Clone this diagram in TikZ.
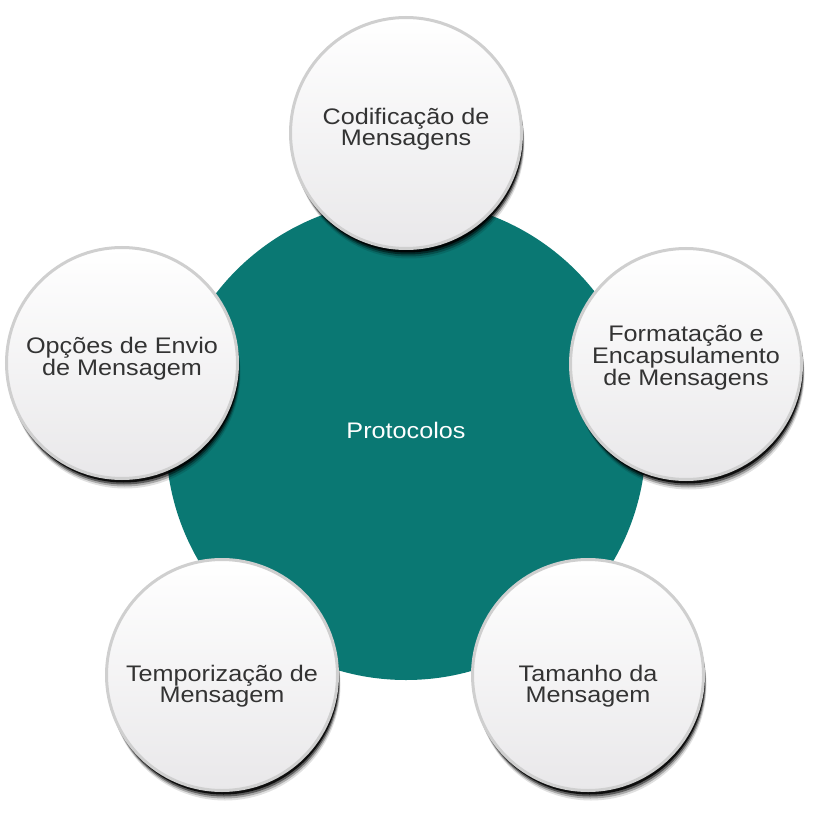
\documentclass[tikz,border=0pt]{standalone}
\usepackage{fontspec}
\setmainfont{Liberation Sans}[FakeStretch=1.12]
\usetikzlibrary{shadows}
\definecolor{prototeal}{HTML}{0A7873}
\definecolor{rimgray}{HTML}{CFCFCF}
\definecolor{bubblegray}{HTML}{E9E8EA}
\definecolor{labelgray}{HTML}{333333}

\begin{document}
\begin{tikzpicture}[x=1pt,y=-1pt,
 bubble/.style={circle,draw=rimgray,line width=3pt,minimum size=231pt,inner sep=0pt,top color=white,bottom color=bubblegray,
  general shadow={shadow xshift=3pt,shadow yshift=-10pt,fill=black,opacity=.12},
  general shadow={shadow xshift=2.5pt,shadow yshift=-8pt,fill=black,opacity=.25},
  general shadow={shadow xshift=2pt,shadow yshift=-6pt,fill=black,opacity=.45},
  general shadow={shadow xshift=1.5pt,shadow yshift=-4pt,fill=black,opacity=.85}},
 bubbletext/.style={text=labelgray,align=center,font=\fontsize{22.5}{20.5}\selectfont},
 hub/.style={circle,fill=prototeal,minimum size=480pt,inner sep=0pt,text=white,text depth=20pt,font=\fontsize{22.5}{24}\selectfont}]
\useasboundingbox (0,0) rectangle (814,813);
\node[hub] (proto) at (406,440) {Protocolos};

\node[bubble,label={[bubbletext,yshift=4pt]center:Codificação de\\Mensagens}] (cod) at (406,133) {};
\node[bubble,label={[bubbletext,yshift=6pt]center:Formatação e\\Encapsulamento\\de Mensagens}] (fmt) at (686,364) {};
\node[bubble,label={[bubbletext,yshift=-11pt]center:Tamanho da\\Mensagem}] (tam) at (588,675) {};
\node[bubble,label={[bubbletext,yshift=-11pt]center:Temporização de\\Mensagem}] (tmp) at (222,675) {};
\node[bubble,label={[bubbletext,yshift=4pt]center:Opções de Envio\\de Mensagem}] (env) at (122,363) {};
\end{tikzpicture}
\end{document}
